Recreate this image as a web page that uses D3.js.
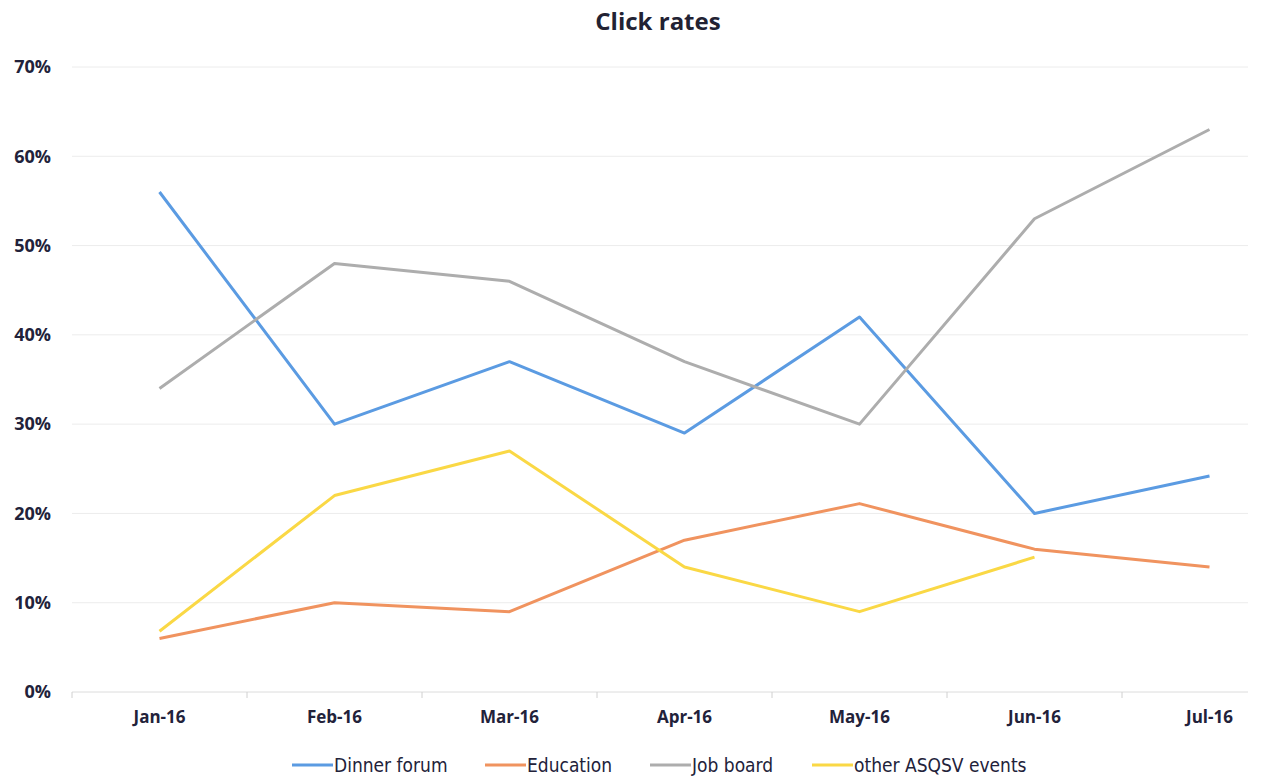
<!DOCTYPE html>
<html>
<head>
<meta charset="utf-8">
<script src="https://cdn.jsdelivr.net/npm/d3@7"></script>
<style>
  body { margin: 0; background: #fff; }
  svg { display: block; }
</style>
</head>
<body>
<div id="chart"></div>
<script>
  // données
  const months = ["Jan-16", "Feb-16", "Mar-16", "Apr-16", "May-16", "Jun-16", "Jul-16"];
  const dinnerForum = [56, 30, 37, 29, 42, 20, 24.2];
  const education = [6, 10, 9, 17, 21.1, 16, 14];
  const jobBoard = [34, 48, 46, 37, 30, 53, 63];
  const otherEvents = [6.8, 22, 27, 14, 9, 15.1, null];
  const yTicks = [0, 10, 20, 30, 40, 50, 60, 70];

  const series = [
    { name: "Dinner forum", values: dinnerForum, color: "#5b9be2" },
    { name: "Education", values: education, color: "#f0935f" },
    { name: "Job board", values: jobBoard, color: "#adadad" },
    { name: "other ASQSV events", values: otherEvents, color: "#fad845" }
  ];

  const width = 1265;
  const height = 779;

  const svg = d3.select("#chart").append("svg")
    .attr("width", width)
    .attr("height", height);

  const x = d3.scaleBand()
    .domain(months)
    .range([72, 1297]);

  const y = d3.scaleLinear()
    .domain([0, 70])
    .range([692, 67]);

  const gridRight = 1248;

  // titre
  svg.append("text")
    .attr("x", 658)
    .attr("y", 30)
    .attr("text-anchor", "middle")
    .attr("font-family", "'Open Sans', sans-serif")
    .attr("font-weight", "bold")
    .attr("font-size", 24)
    .attr("fill", "#222233")
    .text("Click rates");

  // grille horizontale
  svg.append("g")
    .selectAll("line")
    .data(yTicks.slice(1))
    .enter().append("line")
    .attr("x1", 72)
    .attr("x2", gridRight)
    .attr("y1", d => y(d))
    .attr("y2", d => y(d))
    .attr("stroke", "#ececec")
    .attr("stroke-width", 1);

  // axe Y
  svg.append("g")
    .selectAll("text")
    .data(yTicks)
    .enter().append("text")
    .attr("x", 51)
    .attr("y", d => y(d))
    .attr("dy", "0.35em")
    .attr("text-anchor", "end")
    .attr("font-family", "'Open Sans', sans-serif")
    .attr("font-weight", "bold")
    .attr("font-size", 18)
    .attr("fill", "#22223a")
    .text(d => d + "%");

  // axe X
  const xAxis = svg.append("g")
    .attr("transform", `translate(0,${y(0)})`)
    .call(d3.axisBottom(x).tickSize(0).tickPadding(19));
  xAxis.select(".domain").remove();
  xAxis.append("line")
    .attr("x1", 72)
    .attr("x2", gridRight)
    .attr("stroke", "#dcdcdc");
  xAxis.selectAll(".tick text")
    .attr("font-family", "'Open Sans', sans-serif")
    .attr("font-weight", "bold")
    .attr("font-size", 17)
    .attr("fill", "#22223a");

  // petites graduations entre les catégories
  svg.append("g")
    .selectAll("line")
    .data(months.filter(m => x(m) < gridRight))
    .enter().append("line")
    .attr("x1", d => x(d))
    .attr("x2", d => x(d))
    .attr("y1", y(0))
    .attr("y2", y(0) + 6)
    .attr("stroke", "#d0d0d0");

  const line = d3.line()
    .defined(d => d.v != null)
    .x(d => x(d.m) + x.bandwidth() / 2)
    .y(d => y(d.v));

  svg.append("g")
    .selectAll("path")
    .data(series)
    .enter().append("path")
    .attr("fill", "none")
    .attr("stroke", d => d.color)
    .attr("stroke-width", 3)
    .attr("stroke-linejoin", "round")
    .attr("d", d => line(d.values.map((v, i) => ({ m: months[i], v }))));

  // légende
  const legendX = [292, 485, 650, 812];
  const legend = svg.append("g")
    .selectAll("g")
    .data(series)
    .enter().append("g")
    .attr("transform", (d, i) => `translate(${legendX[i]},765)`);

  legend.append("line")
    .attr("x1", 0)
    .attr("x2", 41)
    .attr("stroke", d => d.color)
    .attr("stroke-width", 3);

  legend.append("text")
    .attr("x", 42)
    .attr("dy", "0.35em")
    .attr("font-family", "'DejaVu Sans Condensed', 'DejaVu Sans', sans-serif")
    .attr("font-size", 19)
    .attr("fill", "#22223a")
    .text(d => d.name);
</script>
</body>
</html>
